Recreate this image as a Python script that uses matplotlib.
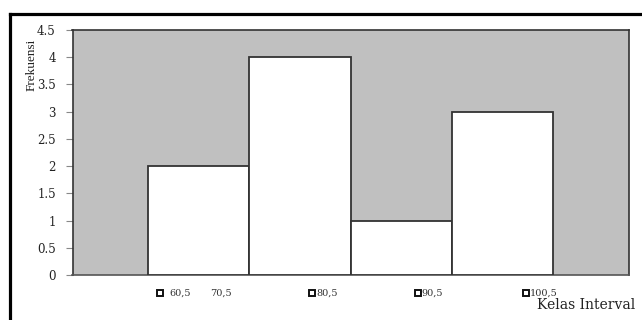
import matplotlib
matplotlib.use("Agg")
import matplotlib.pyplot as plt
from matplotlib.lines import Line2D
from matplotlib.transforms import blended_transform_factory

# Class boundaries and frequencies
bin_edges = [60.5, 70.5, 80.5, 90.5, 100.5]
frequencies = [2, 4, 1, 3]
y_ticks = [0, 0.5, 1, 1.5, 2, 2.5, 3, 3.5, 4, 4.5]
y_tick_labels = ["0", "0.5", "1", "1.5", "2", "2.5", "3", "3.5", "4", "4.5"]

# Category key under the axis: (marker?, label)
key_labels = ["60,5", "70,5", "80,5", "90,5", "100,5"]
key_has_marker = [True, False, True, True, True]
key_text_x = [62.57, 66.62, 77.09, 87.46, 98.23]
key_marker_x = [61.64, None, 76.65, 87.12, 97.78]

W, H, DPI = 642, 320, 100
fig = plt.figure(figsize=(W / DPI, H / DPI), dpi=DPI)
fig.patch.set_facecolor("white")

ax = fig.add_axes([72.5 / W, 1 - 275 / H, (629 - 72.5) / W, (275 - 30) / H])
ax.set_facecolor("#c0c0c0")

widths = [bin_edges[i + 1] - bin_edges[i] for i in range(len(frequencies))]
ax.bar(bin_edges[:-1], frequencies, width=widths, align="edge",
       color="white", edgecolor="#333333", linewidth=1.3, zorder=3)

ax.set_xlim(53.04, 108.0)
ax.set_ylim(0, 4.5)
ax.set_yticks(y_ticks)
ax.set_yticklabels(y_tick_labels, family="DejaVu Serif", fontsize=8.5, color="#222222")
ax.set_xticks([])
ax.tick_params(axis="y", length=5, width=0.8, color="#888888", pad=7)
for side in ["left", "bottom", "top", "right"]:
    ax.spines[side].set_color("#333333")
    ax.spines[side].set_linewidth(1.2)
ax.spines["bottom"].set_color("#555555")

# Category key below the plot
tr = blended_transform_factory(ax.transData, ax.transAxes)
key_y = -0.0735
for lab, has_m, tx, mx in zip(key_labels, key_has_marker, key_text_x, key_marker_x):
    if has_m:
        ax.plot([mx], [key_y], marker="s", markersize=4.6, markerfacecolor="white",
                markeredgecolor="#111111", markeredgewidth=1.4, transform=tr,
                clip_on=False)
    ax.text(tx, key_y, lab, transform=tr, ha="left", va="center",
            fontsize=7, family="DejaVu Serif", color="#333333")

ax.text(1.0108, -0.122, "Kelas Interval", transform=ax.transAxes, ha="right",
        va="center", fontsize=10, family="DejaVu Serif", color="#222222")

fig.text(32 / W, 1 - 65 / H, "Frekuensi", rotation=90, ha="center", va="center",
         fontsize=9.5, family="Liberation Serif", color="#222222")

# Frame around the figure
fig.add_artist(Line2D([10.5 / W, 10.5 / W], [0, 1 - 13.5 / H], color="black",
                      linewidth=2.3, transform=fig.transFigure, solid_capstyle="projecting"))
fig.add_artist(Line2D([10.5 / W, 1], [1 - 13.5 / H, 1 - 13.5 / H], color="black",
                      linewidth=2.3, transform=fig.transFigure, solid_capstyle="projecting"))

fig.savefig("out.png", dpi=DPI)
